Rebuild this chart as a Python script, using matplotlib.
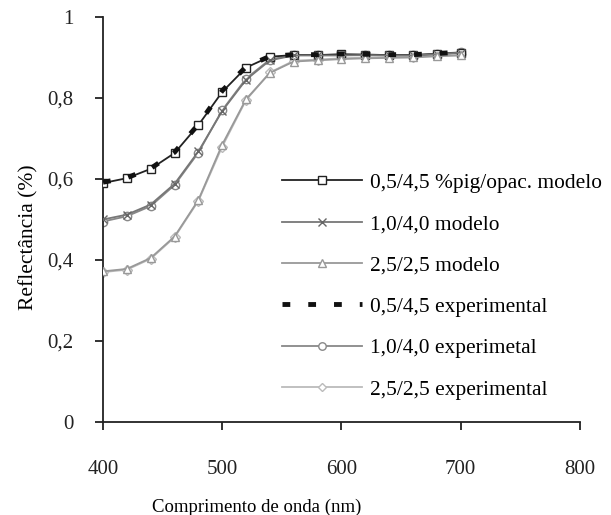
import matplotlib
matplotlib.use("Agg")
import matplotlib.pyplot as plt
from matplotlib.ticker import FuncFormatter

plt.rcParams['font.family'] = ['Liberation Serif', 'DejaVu Serif']

wl = [400, 420, 440, 460, 480, 500, 520, 540, 560, 580, 600, 620, 640, 660, 680, 700]

m_05 = [0.590, 0.602, 0.625, 0.664, 0.733, 0.815, 0.875, 0.902, 0.906, 0.906, 0.908, 0.907, 0.906, 0.906, 0.909, 0.912]
m_10 = [0.500, 0.512, 0.537, 0.588, 0.668, 0.768, 0.845, 0.893, 0.905, 0.905, 0.905, 0.906, 0.905, 0.905, 0.908, 0.912]
m_25 = [0.372, 0.378, 0.405, 0.458, 0.548, 0.685, 0.797, 0.862, 0.890, 0.893, 0.896, 0.898, 0.899, 0.900, 0.903, 0.905]
e_05 = [0.592, 0.603, 0.626, 0.666, 0.735, 0.818, 0.877, 0.903, 0.907, 0.907, 0.909, 0.908, 0.907, 0.907, 0.910, 0.913]
e_10 = [0.495, 0.508, 0.533, 0.585, 0.665, 0.770, 0.848, 0.895, 0.906, 0.906, 0.907, 0.907, 0.906, 0.906, 0.909, 0.913]
e_25 = [0.370, 0.376, 0.403, 0.456, 0.546, 0.680, 0.795, 0.863, 0.892, 0.895, 0.898, 0.900, 0.901, 0.902, 0.905, 0.908]

labels = ["0,5/4,5 %pig/opac. modelo", "1,0/4,0 modelo", "2,5/2,5 modelo",
          "0,5/4,5 experimental", "1,0/4,0 experimetal", "2,5/2,5 experimental"]

fig = plt.figure(figsize=(6.11, 5.15), dpi=100)
ax = fig.add_axes([0.1686, 0.1806, 0.7804, 0.7864])

ms = 6
ax.plot(wl, m_05, color='#222222', lw=1.3, marker='s', ms=ms, mfc='white', mec='#222222', label=labels[0], zorder=3)
ax.plot(wl, m_10, color='#777777', lw=1.3, marker='x', ms=ms, mec='#666666', label=labels[1], zorder=3)
ax.plot(wl, m_25, color='#999999', lw=1.3, marker='^', ms=ms, mfc='white', mec='#999999', label=labels[2], zorder=3)
ax.plot(wl, e_05, color='#111111', lw=3.5, ls=(0, (1.6, 3.7)), label=labels[3], zorder=4)
ax.plot(wl, e_10, color='#888888', lw=1.3, marker='o', ms=ms, mfc='white', mec='#888888', label=labels[4], zorder=2)
ax.plot(wl, e_25, color='#bbbbbb', lw=1.3, marker='D', ms=5, mfc='white', mec='#bbbbbb', label=labels[5], zorder=2)

ax.set_xlim(400, 800)
ax.set_ylim(0, 1)
ax.set_xticks([400, 500, 600, 700, 800])
ax.set_yticks([0, 0.2, 0.4, 0.6, 0.8, 1.0])
ax.yaxis.set_major_formatter(FuncFormatter(lambda v, p: "0" if v == 0 else ("1" if v == 1 else f"{v:.1f}".replace('.', ','))))
for s in ['top', 'right']:
    ax.spines[s].set_visible(False)
for s in ['left', 'bottom']:
    ax.spines[s].set_linewidth(1.3)
    ax.spines[s].set_color('#222222')
ax.tick_params(direction='out', length=5.5, width=1.3, labelsize=15, colors='#222222')
ax.tick_params(axis='x', pad=22)
ax.tick_params(axis='y', pad=16)

ax.set_xlabel("Comprimento de onda (nm)", fontsize=13.5, labelpad=14, x=0.323)
ax.set_ylabel("Reflectância (%)", fontsize=15.5, labelpad=6, y=0.457)

leg = ax.legend(loc='upper left', bbox_to_anchor=(0.375, 0.615), frameon=False, fontsize=15.4,
                handlelength=3.75, handletextpad=0.36, labelspacing=1.0, borderaxespad=0, borderpad=0,
                markerscale=0.9)

fig.savefig("out.png", dpi=100)
